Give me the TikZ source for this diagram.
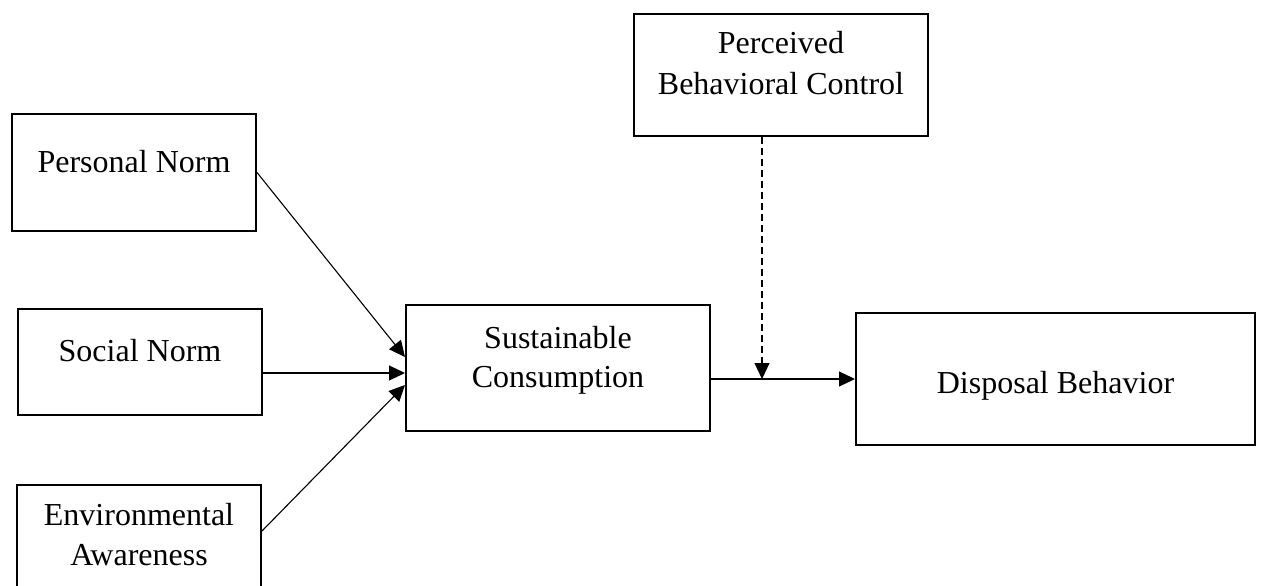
\documentclass[tikz,border=0pt]{standalone}
\usepackage{fontspec}
\setmainfont{Liberation Serif}
\usetikzlibrary{arrows.meta,calc}
\tikzset{
  box/.style={draw=black, line width=2pt, fill=none, inner sep=0pt},
  txt/.style={anchor=base, inner sep=0pt, font=\fontsize{32}{40}\selectfont},
  arr/.style={draw=black, line width=1.1pt, -{Triangle[length=16pt,width=15pt]}},
  darr/.style={arr, dash pattern=on 7pt off 4pt}
}
\begin{document}
\begin{tikzpicture}[x=1pt,y=-1pt]
\useasboundingbox (0,0) rectangle (1262,586);
% boxes
\node[box, minimum width=244pt, minimum height=117pt] (pn) at (134,172.5) {};
\node[box, minimum width=244pt, minimum height=106pt] (sn) at (140,362) {};
\node[box, minimum width=244pt, minimum height=125pt] (env) at (139,547.5) {};
\node[box, minimum width=304pt, minimum height=126pt] (sc) at (558,368) {};
\node[box, minimum width=294pt, minimum height=122pt] (pbc) at (781,75) {};
\node[box, minimum width=399pt, minimum height=132pt] (db) at (1055.5,379) {};
% texts
\node[txt] (pnt) at (134,172) {Personal Norm};
\node[txt] (snt) at (140,361) {Social Norm};
\node[txt] (envt1) at (139,525) {Environmental};
\node[txt] (envt2) at (139,565) {Awareness};
\node[txt] (sct1) at (558,348) {Sustainable};
\node[txt] (sct2) at (558,387) {Consumption};
\node[txt] (pbct1) at (781,54) {Perceived};
\node[txt] (pbct2) at (781,95) {Behavioral Control};
\node[txt] (dbt) at (1055.5,393) {Disposal Behavior};
% connectors
\draw[arr] (pn.east) -- ([yshift=11pt]sc.west);
\draw[arr] ([yshift=-11pt]sn.east) -- ([yshift=-5pt]sc.west);
\draw[arr] ([yshift=16.5pt]env.east) -- ([yshift=-17pt]sc.west);
\draw[arr] (sc.east |- db.west) -- (db.west);
\coordinate (mid) at (762,379);
\draw[darr] (pbc.south -| mid) -- (mid);
\end{tikzpicture}
\end{document}
